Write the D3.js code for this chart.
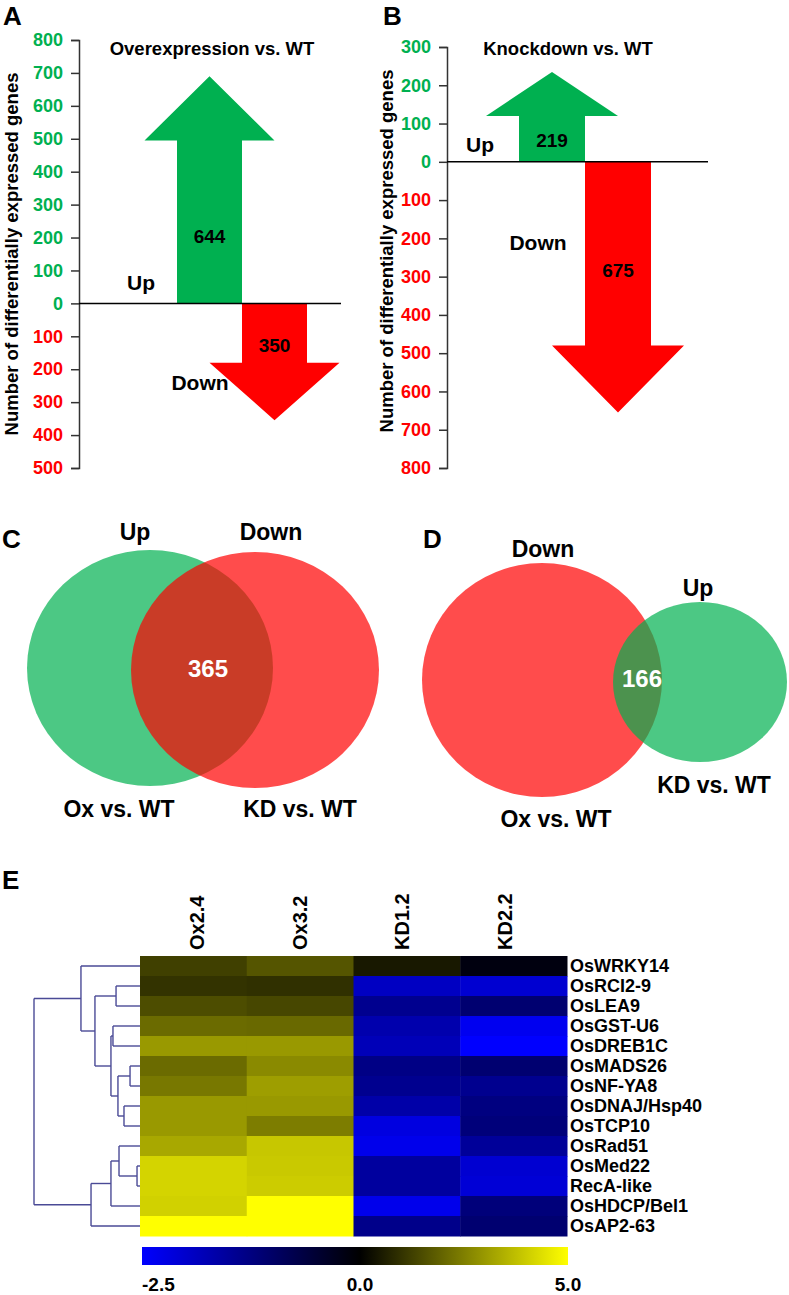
<!DOCTYPE html>
<html><head><meta charset="utf-8">
<script src="https://cdn.jsdelivr.net/npm/d3@7"></script>
<style>
body{margin:0;background:#fff}
svg{display:block}
text{font-family:'Liberation Sans',Arial,Helvetica,sans-serif;font-weight:bold}
</style>
</head><body>
<svg id="fig" width="789" height="1295"></svg>
<script>
// ---------------- DATA ----------------
const deCategories = ["Up", "Down"];
// Panel A: Overexpression vs. WT
const oxCounts = [644, 350];
const oxArrowNeck = [495, 180];   // where arrow head starts (gene count)
const oxArrowTip = [690, 355];    // arrow tip (gene count)
const oxLabelAt = [205, 128];     // number label position (gene count)
const oxTicks = [-500, -400, -300, -200, -100, 0, 100, 200, 300, 400, 500, 600, 700, 800];
// Panel B: Knockdown vs. WT
const kdCounts = [219, 675];
const kdArrowNeck = [120, 480];
const kdArrowTip = [235, 655];
const kdLabelAt = [57, 282];
const kdTicks = [-800, -700, -600, -500, -400, -300, -200, -100, 0, 100, 200, 300];

// Venn diagrams
const vennCSets = ["Up", "Down"];
const vennCGroups = ["Ox vs. WT", "KD vs. WT"];
const vennCOverlap = 365;
const vennDSets = ["Down", "Up"];
const vennDGroups = ["Ox vs. WT", "KD vs. WT"];
const vennDOverlap = 166;

// Heatmap
const samples = ["Ox2.4", "Ox3.2", "KD1.2", "KD2.2"];
const genes = ["OsWRKY14", "OsRCI2-9", "OsLEA9", "OsGST-U6", "OsDREB1C", "OsMADS26", "OsNF-YA8",
  "OsDNAJ/Hsp40", "OsTCP10", "OsRad51", "OsMed22", "RecA-like", "OsHDCP/Bel1", "OsAP2-63"];
const expr = [
  [1.25, 1.67, 0.47, -0.15],
  [1.00, 0.95, -1.90, -2.05],
  [1.50, 1.40, -1.40, -1.10],
  [2.10, 2.05, -1.70, -2.35],
  [3.00, 3.00, -1.80, -2.50],
  [2.10, 2.70, -1.30, -1.10],
  [2.35, 3.10, -1.40, -1.40],
  [3.00, 3.00, -1.65, -1.25],
  [3.00, 2.45, -2.20, -1.20],
  [3.30, 3.90, -2.30, -1.50],
  [4.15, 3.95, -1.55, -2.05],
  [4.15, 4.00, -1.55, -2.10],
  [4.10, 5.00, -2.30, -1.20],
  [5.00, 5.00, -1.35, -1.10]
];
const colorTicks = [-2.5, 0.0, 5.0];
// Dendrogram: [height, child, child]; leaves are gene names
const dendro = [1.0,
  [0.557, "OsWRKY14",
    [0.425,
      [0.226, "OsRCI2-9", "OsLEA9"],
      [0.274,
        [0.255, "OsGST-U6", "OsDREB1C"],
        [0.208,
          [0.094, "OsMADS26", "OsNF-YA8"],
          [0.151, "OsDNAJ/Hsp40", "OsTCP10"]]]]],
  [0.462,
    [0.274,
      [0.198, "OsRad51", [0.028, "OsMed22", "RecA-like"]],
      "OsHDCP/Bel1"],
    "OsAP2-63"]];

// ---------------- STYLE ----------------
const GREEN = "#00b050", RED = "#ff0000";
const svg = d3.select("#fig");

// ---------------- PANELS A & B ----------------
function arrowPanel(cfg) {
  const g = svg.append("g");
  const y = d3.scaleLinear().domain(cfg.domain).range([cfg.bottom, cfg.top]);
  const x = d3.scaleBand().domain(deCategories).range(cfg.xr);
  const w = x.bandwidth();
  deCategories.forEach((c, i) => {
    const s = i === 0 ? 1 : -1;
    const x0 = x(c), x1 = x0 + w, xc = x0 + w / 2;
    const neck = y(s * cfg.neck[i]), tip = y(s * cfg.tip[i]), base = y(0);
    const pts = [[x0, base], [x0, neck], [x0 - w / 2, neck], [xc, tip], [x1 + w / 2, neck], [x1, neck], [x1, base]];
    g.append("path").attr("d", d3.line()(pts) + "Z").attr("fill", i === 0 ? GREEN : RED);
    g.append("text").attr("x", xc).attr("y", y(s * cfg.labelAt[i])).attr("dy", "0.36em")
      .attr("text-anchor", "middle").attr("font-size", 19).text(cfg.counts[i]);
  });
  const axis = d3.axisLeft(y).tickValues(cfg.ticks).tickFormat(d => Math.abs(d)).tickSize(8).tickPadding(8);
  const ag = g.append("g").attr("transform", `translate(${cfg.axisX},0)`).call(axis)
    .attr("font-size", 18).attr("font-family", null);
  ag.select(".domain").attr("stroke", "#333").attr("stroke-width", 1.5);
  ag.selectAll(".tick line").attr("stroke", "#333").attr("stroke-width", 1.5);
  ag.selectAll(".tick text").attr("fill", d => d >= 0 ? GREEN : RED);
  g.append("line").attr("x1", cfg.axisX).attr("x2", cfg.zeroEnd).attr("y1", y(0)).attr("y2", y(0))
    .attr("stroke", "#000").attr("stroke-width", 1.5);
  g.append("text").attr("x", cfg.titleX).attr("y", 55).attr("text-anchor", "middle")
    .attr("font-size", 18.5).text(cfg.title);
  g.append("text").attr("transform", `translate(${cfg.ytX},${cfg.ytY}) rotate(-90)`)
    .attr("text-anchor", "middle").attr("font-size", 18.5).text("Number of differentially expressed genes");
  g.append("text").attr("x", cfg.upLab[0]).attr("y", cfg.upLab[1]).attr("text-anchor", "middle")
    .attr("font-size", 21).text(deCategories[0]);
  g.append("text").attr("x", cfg.downLab[0]).attr("y", cfg.downLab[1]).attr("text-anchor", "middle")
    .attr("font-size", 21).text(deCategories[1]);
  g.append("text").attr("x", cfg.letter[0]).attr("y", 25).attr("font-size", 26).text(cfg.letterText);
}

arrowPanel({domain: [-500, 800], top: 40, bottom: 468, xr: [177, 307], axisX: 79, zeroEnd: 341,
  counts: oxCounts, neck: oxArrowNeck, tip: oxArrowTip, labelAt: oxLabelAt, ticks: oxTicks,
  title: "Overexpression vs. WT", titleX: 212, ytX: 18, ytY: 254,
  upLab: [141, 290], downLab: [200, 390], letter: [3, 0], letterText: "A"});
arrowPanel({domain: [-800, 300], top: 47, bottom: 468, xr: [519, 651], axisX: 447, zeroEnd: 708,
  counts: kdCounts, neck: kdArrowNeck, tip: kdArrowTip, labelAt: kdLabelAt, ticks: kdTicks,
  title: "Knockdown vs. WT", titleX: 568, ytX: 393, ytY: 251,
  upLab: [480, 152], downLab: [538, 250], letter: [383, 0], letterText: "B"});

// ---------------- PANELS C & D (Venn) ----------------
function venn(cfg) {
  const g = svg.append("g");
  cfg.shapes.forEach(s => {
    g.append("ellipse").attr("cx", s.cx).attr("cy", s.cy).attr("rx", s.rx).attr("ry", s.ry)
      .attr("fill", s.color).attr("fill-opacity", 0.7);
  });
  cfg.sets.forEach((t, i) => g.append("text").attr("x", cfg.setPos[i][0]).attr("y", cfg.setPos[i][1])
    .attr("text-anchor", "middle").attr("font-size", 23).text(t));
  cfg.groups.forEach((t, i) => g.append("text").attr("x", cfg.groupPos[i][0]).attr("y", cfg.groupPos[i][1])
    .attr("text-anchor", "middle").attr("font-size", 23).text(t));
  g.append("text").attr("x", cfg.ovPos[0]).attr("y", cfg.ovPos[1]).attr("text-anchor", "middle")
    .attr("font-size", 24).attr("fill", "#fff").text(cfg.overlap);
  g.append("text").attr("x", cfg.letter[0]).attr("y", cfg.letter[1]).attr("font-size", 26).text(cfg.letterText);
}
venn({shapes: [{cx: 150, cy: 668, rx: 123, ry: 118, color: GREEN}, {cx: 255, cy: 670, rx: 124, ry: 118, color: RED}],
  sets: vennCSets, setPos: [[135, 540], [271, 540]], groups: vennCGroups, groupPos: [[119, 817], [300, 817]],
  overlap: vennCOverlap, ovPos: [208, 677], letter: [2, 548], letterText: "C"});
venn({shapes: [{cx: 542, cy: 680, rx: 120, ry: 117, color: RED}, {cx: 700, cy: 682, rx: 87, ry: 80, color: GREEN}],
  sets: vennDSets, setPos: [[543, 557], [698, 596]], groups: vennDGroups, groupPos: [[556, 827], [714, 793]],
  overlap: vennDOverlap, ovPos: [642, 687], letter: [423, 548], letterText: "D"});

// ---------------- PANEL E (heatmap) ----------------
const gE = svg.append("g");
gE.append("text").attr("x", 2).attr("y", 889).attr("font-size", 26).text("E");
const xh = d3.scaleBand().domain(samples).range([140, 567]);
const xl = d3.scaleBand().domain(samples).range([153, 563]);   // column label placement
const yh = d3.scaleBand().domain(genes).range([956, 1236]);
const col = d3.scaleLinear().domain(colorTicks).range(["#0000ff", "#000000", "#ffff00"]).clamp(true);

genes.forEach((gname, r) => {
  samples.forEach((s, c) => {
    gE.append("rect").attr("x", xh(s)).attr("y", yh(gname))
      .attr("width", xh.bandwidth() + 0.5).attr("height", yh.bandwidth() + 0.5)
      .attr("fill", col(expr[r][c]));
  });
  gE.append("text").attr("x", 570).attr("y", yh(gname) + yh.bandwidth() / 2).attr("dy", "0.36em")
    .attr("font-size", 18).text(gname);
});
samples.forEach(s => {
  gE.append("text").attr("transform", `translate(${xl(s) + xl.bandwidth() / 2},${950}) rotate(-90)`)
    .attr("font-size", 20).text(s);
});

// Dendrogram
const root = d3.hierarchy(dendro, d => Array.isArray(d) ? d.slice(1) : null);
const xd = d3.scaleLinear().domain([0, 1]).range([140, 34]);
root.eachAfter(n => {
  n.h = Array.isArray(n.data) ? n.data[0] : 0;
  n.px = xd(n.h);
  n.py = n.children ? d3.mean(n.children, c => c.py) : yh(n.data) + yh.bandwidth() / 2;
});
const dg = gE.append("g").attr("stroke", "#4a4a96").attr("stroke-width", 1.4).attr("fill", "none");
root.each(n => {
  if (n.children) {
    dg.append("line").attr("x1", n.px).attr("x2", n.px)
      .attr("y1", d3.min(n.children, c => c.py)).attr("y2", d3.max(n.children, c => c.py));
    n.children.forEach(c => dg.append("line").attr("x1", n.px).attr("x2", c.px).attr("y1", c.py).attr("y2", c.py));
  }
});

// Color bar
const cb = d3.scaleLinear().domain(colorTicks).range([142, 360, 568]);
const grad = svg.append("defs").append("linearGradient").attr("id", "cbg")
  .attr("x1", "0%").attr("x2", "100%").attr("y1", "0%").attr("y2", "0%");
colorTicks.forEach(v => grad.append("stop")
  .attr("offset", ((cb(v) - 142) / (568 - 142) * 100) + "%").attr("stop-color", col(v)));
gE.append("rect").attr("x", 142).attr("y", 1247).attr("width", 568 - 142).attr("height", 18).attr("fill", "url(#cbg)");
colorTicks.forEach((v, i) => gE.append("text").attr("x", cb(v)).attr("y", 1291)
  .attr("text-anchor", i === 0 ? "start" : "middle").attr("font-size", 19).text(v.toFixed(1)));
</script>
</body></html>
